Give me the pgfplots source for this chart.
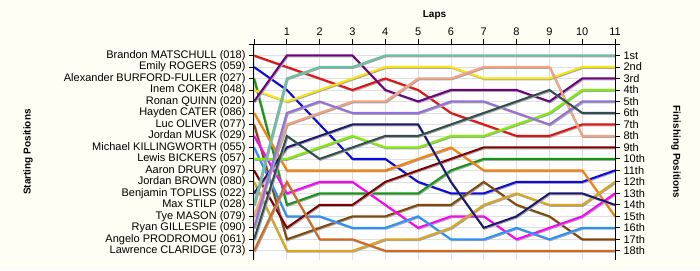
\documentclass[border=0pt]{standalone}
\usepackage{pgfplots}
\pgfplotsset{compat=1.18}
\usepackage{fontspec}
\setmainfont{Liberation Sans}
\usetikzlibrary{backgrounds}
\definecolor{bg}{RGB}{254,254,244}
\definecolor{cRed}{RGB}{232,16,16}
\definecolor{cBlue}{RGB}{10,10,225}
\definecolor{cGreen}{RGB}{20,150,20}
\definecolor{cYellow}{RGB}{250,228,10}
\definecolor{cPurple}{RGB}{110,0,130}
\definecolor{cOrange}{RGB}{255,128,0}
\definecolor{cBrown}{RGB}{130,72,10}
\definecolor{cMagenta}{RGB}{255,0,255}
\definecolor{cDodger}{RGB}{40,145,255}
\definecolor{cLawn}{RGB}{125,240,0}
\definecolor{cDarkRed}{RGB}{128,0,0}
\definecolor{cGold}{RGB}{218,165,32}
\definecolor{cNavy}{RGB}{25,25,112}
\definecolor{cSlate}{RGB}{47,79,79}
\definecolor{cTeal}{RGB}{102,194,165}
\definecolor{cMedPurple}{RGB}{147,112,219}
\definecolor{cSalmon}{RGB}{250,160,125}
\definecolor{cChoc}{RGB}{210,105,30}
\pgfplotsset{
  common/.style={
    scale only axis, width=361pt, height=216pt,
    xmin=0, xmax=11, ymin=0, ymax=18.8, y dir=reverse,
    tick align=outside, major tick length=5pt,
    tick style={black, line width=0.8pt},
    axis line style={black, line width=1pt},
    tick label style={font=\fontsize{11}{12}\selectfont},
    /pgf/number format/assume math mode=true,
  }
}
\begin{document}
\begin{tikzpicture}[font=\fontsize{11}{12}\selectfont]
\begin{axis}[common, name=main,
  axis x line*=top, axis y line*=left,
  axis background/.style={fill=white},
  xtick={0,...,11}, xticklabels={,1,2,3,4,5,6,7,8,9,10,11},
  ytick={0,...,18},
  yticklabels={,Brandon MATSCHULL (018),Emily ROGERS (059),Alexander BURFORD-FULLER (027),Inem COKER (048),Ronan QUINN (020),Hayden CATER (086),Luc OLIVER (077),Jordan MUSK (029),Michael KILLINGWORTH (055),Lewis BICKERS (057),Aaron DRURY (097),Jordan BROWN (080),Benjamin TOPLISS (022),Max STILP (028),Tye MASON (079),Ryan GILLESPIE (090),Angelo PRODROMOU (061),Lawrence CLARIDGE (073)},
  grid=major, major grid style={black!12, line width=0.7pt},
  every axis plot/.append style={line width=2pt, line join=miter,
    preaction={draw=black!35, transform canvas={xshift=0.9pt, yshift=-0.9pt}}},
]
% lap: 0 1 2 3 4 5 6 7 8 9 10 11
\addplot[cRed] coordinates {(0,1)(1,2)(2,3)(3,4)(4,3)(5,4)(6,6)(7,7)(8,8)(9,8)(10,7)(11,7)};
\addplot[cBlue] coordinates {(0,2)(1,4)(2,7)(3,10)(4,10)(5,12)(6,13)(7,13)(8,12)(9,12)(10,12)(11,11)};
\addplot[cGreen] coordinates {(0,3)(1,14)(2,13)(3,13)(4,13)(5,13)(6,11)(7,10)(8,10)(9,10)(10,10)(11,10)};
\addplot[cYellow] coordinates {(0,4)(1,5)(2,4)(3,3)(4,2)(5,2)(6,2)(7,3)(8,3)(9,3)(10,2)(11,2)};
\addplot[cPurple] coordinates {(0,5)(1,1)(2,1)(3,1)(4,4)(5,5)(6,4)(7,4)(8,4)(9,5)(10,3)(11,3)};
\addplot[cOrange] coordinates {(0,6)(1,11)(2,11)(3,11)(4,11)(5,10)(6,9)(7,11)(8,11)(9,11)(10,11)(11,15)};
\addplot[cBrown] coordinates {(0,7)(1,17)(2,16)(3,15)(4,15)(5,14)(6,14)(7,12)(8,14)(9,15)(10,17)(11,17)};
\addplot[cMagenta] coordinates {(0,8)(1,13)(2,12)(3,12)(4,14)(5,16)(6,15)(7,15)(8,17)(9,16)(10,15)(11,13)};
\addplot[cDodger] coordinates {(0,9)(1,15)(2,15)(3,16)(4,16)(5,15)(6,17)(7,17)(8,16)(9,17)(10,16)(11,16)};
\addplot[cLawn] coordinates {(0,10)(1,10)(2,9)(3,8)(4,9)(5,9)(6,8)(7,8)(8,7)(9,6)(10,4)(11,4)};
\addplot[cDarkRed] coordinates {(0,11)(1,16)(2,14)(3,14)(4,12)(5,11)(6,10)(7,9)(8,9)(9,9)(10,9)(11,9)};
\addplot[cGold] coordinates {(0,12)(1,18)(2,18)(3,18)(4,17)(5,17)(6,16)(7,14)(8,13)(9,14)(10,14)(11,12)};
\addplot[cNavy] coordinates {(0,13)(1,9)(2,8)(3,7)(4,7)(5,7)(6,12)(7,16)(8,15)(9,13)(10,13)(11,14)};
\addplot[cTeal] coordinates {(0,14)(1,3)(2,2)(3,2)(4,1)(5,1)(6,1)(7,1)(8,1)(9,1)(10,1)(11,1)};
\addplot[cSalmon] coordinates {(0,15)(1,7)(2,6)(3,5)(4,5)(5,3)(6,3)(7,2)(8,2)(9,2)(10,8)(11,8)};
\addplot[cMedPurple] coordinates {(0,16)(1,6)(2,5)(3,6)(4,6)(5,6)(6,5)(7,5)(8,6)(9,7)(10,5)(11,5)};
\addplot[cSlate] coordinates {(0,17)(1,8)(2,10)(3,9)(4,8)(5,8)(6,7)(7,6)(8,5)(9,4)(10,6)(11,6)};
\addplot[cChoc] coordinates {(0,18)(1,12)(2,17)(3,17)(4,18)(5,18)(6,18)(7,18)(8,18)(9,18)(10,18)(11,18)};
\end{axis}
\begin{axis}[common,
  axis x line=none, axis y line*=right,
  ytick={0,...,18},
  yticklabels={,1st,2nd,3rd,4th,5th,6th,7th,8th,9th,10th,11th,12th,13th,14th,15th,16th,17th,18th},
]
\end{axis}
\node[font=\bfseries\fontsize{10}{12}\selectfont] at ([yshift=29pt]main.north) {Laps};
\node[font=\bfseries\fontsize{10}{12}\selectfont, rotate=90] at ([xshift=-226pt]main.west) {Starting Positions};
\node[font=\bfseries\fontsize{10}{12}\selectfont, rotate=-90] at ([xshift=61pt]main.east) {Finishing Positions};
\begin{scope}[on background layer]
\fill[bg] ([xshift=-254pt,yshift=-10pt]main.south west) rectangle ([xshift=85pt,yshift=44pt]main.north east);
\end{scope}
\end{tikzpicture}
\end{document}
